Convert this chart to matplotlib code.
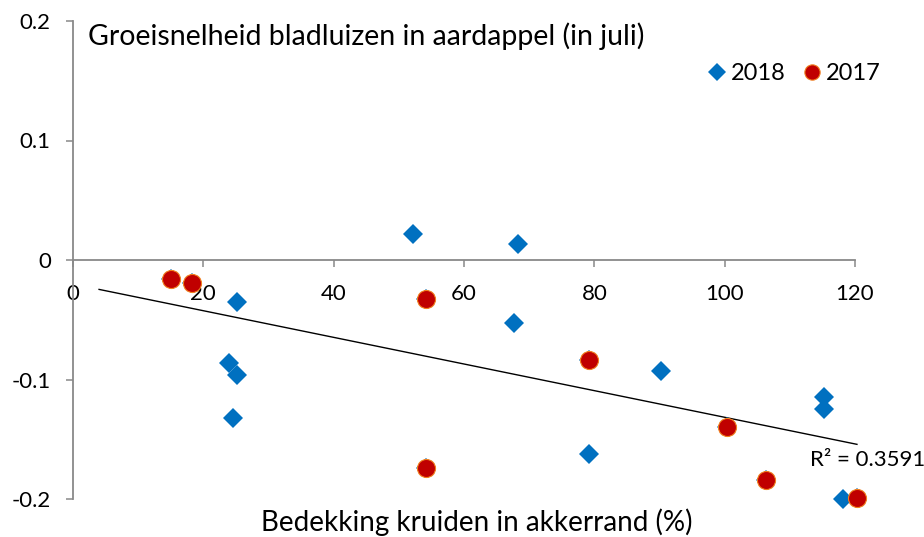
import numpy as np
import matplotlib.pyplot as plt
from matplotlib.lines import Line2D

plt.rcParams['font.family'] = ['Lato', 'DejaVu Sans']

# bedekking (%) en groeisnelheid
x_2018 = [25.1, 24.0, 25.1, 24.6, 52.2, 68.3, 67.7, 79.2, 90.2, 115.2, 115.2, 118.2]
y_2018 = [-0.035, -0.086, -0.096, -0.132, 0.022, 0.013, -0.053, -0.162, -0.093, -0.115, -0.125, -0.200]

x_2017 = [15.1, 18.2, 54.2, 54.2, 79.2, 100.3, 106.3, 120.3]
y_2017 = [-0.016, -0.019, -0.033, -0.174, -0.084, -0.140, -0.184, -0.199]

x_ticks = [0, 20, 40, 60, 80, 100, 120]
y_ticks = [-0.2, -0.1, 0, 0.1, 0.2]

blauw = '#0070C0'
rood = '#C00000'
grijs = '#898989'

fig = plt.figure(figsize=(9.24, 5.37), dpi=100)
ax = fig.add_axes([73 / 924, 1 - 499 / 537, 782 / 924, 478 / 537])

# trendlijn over alle punten
x_all = np.array(x_2018 + x_2017)
y_all = np.array(y_2018 + y_2017)
coef = np.polyfit(x_all, y_all, 1)
xt = np.array([4, 120.3])
ax.plot(xt, np.polyval(coef, xt), color='black', linewidth=1.0, clip_on=False, zorder=2)

ax.plot(x_all, y_all, 'D', color=blauw, markersize=10, markeredgewidth=0,
        clip_on=False, zorder=3)
ax.plot(x_2017, y_2017, 'o', color=rood, markersize=13, markeredgecolor='#F08020',
        markeredgewidth=0.8, clip_on=False, zorder=4)

ax.set_xlim(0, 120)
ax.set_ylim(-0.2, 0.2)
ax.set_xticks(x_ticks)
ax.set_yticks(y_ticks)
ax.set_xticklabels([str(v) for v in x_ticks])
ax.set_yticklabels(['-0.2', '-0.1', '0', '0.1', '0.2'])

ax.spines['top'].set_visible(False)
ax.spines['right'].set_visible(False)
ax.spines['bottom'].set_position(('data', 0))
for s in ['left', 'bottom']:
    ax.spines[s].set_color(grijs)
    ax.spines[s].set_linewidth(1.3)
ax.tick_params(axis='both', colors=grijs, length=5, width=1.1, labelsize=16,
               labelcolor='black')
ax.tick_params(axis='x', pad=12)
ax.tick_params(axis='y', pad=11)

fig.text(88 / 924, 1 - 36 / 537, 'Groeisnelheid bladluizen in aardappel (in juli)',
         fontsize=20.5, va='center', ha='left')
fig.text(477 / 924, 1 - 522 / 537, 'Bedekking kruiden in akkerrand (%)',
         fontsize=20, va='center', ha='center')

ax.text(113.1, -0.167, 'R² = 0.3591', fontsize=16, va='center', ha='left')

handles = [Line2D([], [], marker='D', color=blauw, linestyle='none', markersize=9,
                  markeredgewidth=0),
           Line2D([], [], marker='o', color=rood, linestyle='none', markersize=11,
                  markeredgecolor='#F08020', markeredgewidth=0.8)]
fig.legend(handles, ['2018', '2017'], loc='center', bbox_to_anchor=(793 / 924, 1 - 74 / 537),
           ncol=2, frameon=False, fontsize=17, handletextpad=0.1, columnspacing=0.6,
           handlelength=1.0)

fig.savefig('out.png', dpi=100)
